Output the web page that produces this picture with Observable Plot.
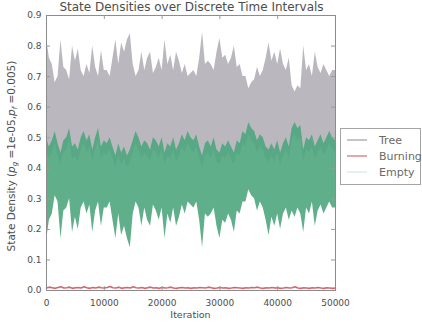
<!DOCTYPE html>
<html>
<head>
<meta charset="utf-8">
<script src="https://cdn.jsdelivr.net/npm/d3@7"></script>
<script src="https://cdn.jsdelivr.net/npm/@observablehq/plot@0.6"></script>
<style>
  body { margin: 0; background: #fff; }
  svg { display: block; }
</style>
</head>
<body>
<div id="chart"></div>
<script>
// Forest-fire cellular automaton: fraction of cells in each state over time.
const seriesNames = ["Tree", "Burning", "Empty"];
const seriesColors = ["#bab8be", "#d5676c", "#4fa67e"];
const legendColors = ["#b3b1b7", "#d98c90", "#e2ebe6"];

const xTicks = [0, 10000, 20000, 30000, 40000, 50000];
const yTicks = [0, 0.1, 0.2, 0.3, 0.4, 0.5, 0.6, 0.7, 0.8, 0.9];

// sampled every 500 iterations
const iterations = d3.range(0, 50001, 500);

// per-sample envelope (low / high) of each state density
const treeHigh = [
  0.83, 0.76, 0.74, 0.68, 0.70, 0.82, 0.73, 0.72, 0.69, 0.80,
  0.75, 0.79, 0.72, 0.70, 0.74, 0.71, 0.80, 0.73, 0.70, 0.785,
  0.72, 0.72, 0.70, 0.76, 0.82, 0.74, 0.81, 0.78, 0.82, 0.84,
  0.74, 0.70, 0.72, 0.78, 0.72, 0.76, 0.78, 0.71, 0.73, 0.76,
  0.72, 0.82, 0.74, 0.77, 0.72, 0.78, 0.75, 0.71, 0.74, 0.70,
  0.71, 0.72, 0.70, 0.76, 0.845, 0.74, 0.75, 0.74, 0.72, 0.78,
  0.825, 0.76, 0.77, 0.74, 0.76, 0.80, 0.73, 0.74, 0.70, 0.70,
  0.66, 0.68, 0.69, 0.73, 0.70, 0.72, 0.76, 0.81, 0.75, 0.78,
  0.74, 0.79, 0.74, 0.72, 0.76, 0.67, 0.65, 0.67, 0.66, 0.80,
  0.72, 0.74, 0.70, 0.78, 0.73, 0.71, 0.74, 0.72, 0.70, 0.72, 0.72
];
const treeLow = [
  0.46, 0.43, 0.45, 0.48, 0.44, 0.41, 0.45, 0.46, 0.49, 0.43,
  0.44, 0.42, 0.46, 0.48, 0.45, 0.47, 0.42, 0.46, 0.49, 0.43,
  0.45, 0.44, 0.46, 0.43, 0.40, 0.44, 0.41, 0.43, 0.40, 0.42,
  0.45, 0.48, 0.46, 0.43, 0.45, 0.44, 0.42, 0.46, 0.45, 0.43,
  0.46, 0.41, 0.44, 0.43, 0.46, 0.42, 0.44, 0.47, 0.45, 0.48,
  0.46, 0.45, 0.47, 0.43, 0.40, 0.44, 0.45, 0.43, 0.46, 0.42,
  0.41, 0.44, 0.43, 0.45, 0.43, 0.41, 0.45, 0.44, 0.48, 0.47,
  0.51, 0.49, 0.48, 0.45, 0.47, 0.46, 0.43, 0.42, 0.44, 0.42,
  0.45, 0.41, 0.44, 0.46, 0.43, 0.49, 0.51, 0.49, 0.50, 0.42,
  0.46, 0.45, 0.47, 0.43, 0.45, 0.47, 0.44, 0.46, 0.48, 0.46, 0.45
];
const emptyHigh = [
  0.50, 0.47, 0.49, 0.52, 0.48, 0.45, 0.49, 0.50, 0.53, 0.47,
  0.48, 0.46, 0.50, 0.52, 0.49, 0.51, 0.46, 0.50, 0.53, 0.47,
  0.49, 0.48, 0.50, 0.47, 0.44, 0.48, 0.45, 0.47, 0.44, 0.46,
  0.49, 0.52, 0.50, 0.47, 0.49, 0.48, 0.46, 0.50, 0.49, 0.47,
  0.50, 0.45, 0.48, 0.47, 0.50, 0.46, 0.48, 0.51, 0.49, 0.52,
  0.50, 0.49, 0.51, 0.47, 0.44, 0.48, 0.49, 0.47, 0.50, 0.46,
  0.45, 0.48, 0.47, 0.49, 0.47, 0.45, 0.49, 0.48, 0.52, 0.51,
  0.55, 0.53, 0.52, 0.49, 0.51, 0.50, 0.47, 0.46, 0.48, 0.46,
  0.49, 0.45, 0.48, 0.50, 0.47, 0.53, 0.55, 0.53, 0.54, 0.46,
  0.50, 0.49, 0.51, 0.47, 0.49, 0.51, 0.48, 0.50, 0.52, 0.50, 0.49
];
const emptyLow = [
  0.16, 0.23, 0.25, 0.31, 0.29, 0.17, 0.26, 0.27, 0.30, 0.19,
  0.24, 0.20, 0.27, 0.29, 0.25, 0.28, 0.19, 0.26, 0.29, 0.21,
  0.27, 0.27, 0.29, 0.23, 0.17, 0.25, 0.18, 0.21, 0.17, 0.14,
  0.25, 0.29, 0.27, 0.21, 0.27, 0.23, 0.21, 0.28, 0.26, 0.23,
  0.27, 0.17, 0.25, 0.22, 0.27, 0.21, 0.24, 0.28, 0.25, 0.29,
  0.28, 0.27, 0.29, 0.23, 0.14, 0.25, 0.24, 0.25, 0.27, 0.21,
  0.17, 0.23, 0.22, 0.25, 0.23, 0.19, 0.26, 0.25, 0.29, 0.29,
  0.33, 0.31, 0.30, 0.26, 0.29, 0.27, 0.23, 0.18, 0.24, 0.21,
  0.25, 0.20, 0.25, 0.27, 0.23, 0.26, 0.24, 0.27, 0.25, 0.19,
  0.27, 0.25, 0.29, 0.21, 0.26, 0.28, 0.25, 0.27, 0.29, 0.27, 0.27
];
const burning = [
  0.008, 0.011, 0.009, 0.007, 0.010, 0.012, 0.008, 0.009, 0.011, 0.007,
  0.009, 0.010, 0.008, 0.012, 0.009, 0.007, 0.010, 0.008, 0.011, 0.009,
  0.008, 0.010, 0.013, 0.009, 0.008, 0.011, 0.007, 0.009, 0.010, 0.008,
  0.012, 0.009, 0.008, 0.010, 0.007, 0.009, 0.011, 0.008, 0.009, 0.007,
  0.010, 0.008, 0.009, 0.011, 0.008, 0.007, 0.009, 0.010, 0.008, 0.009,
  0.007, 0.009, 0.008, 0.010, 0.009, 0.008, 0.011, 0.009, 0.007, 0.008,
  0.010, 0.008, 0.009, 0.007, 0.008, 0.010, 0.009, 0.008, 0.007, 0.009,
  0.008, 0.010, 0.009, 0.011, 0.008, 0.007, 0.009, 0.008, 0.010, 0.008,
  0.009, 0.007, 0.008, 0.010, 0.008, 0.009, 0.012, 0.008, 0.007, 0.009,
  0.008, 0.007, 0.009, 0.008, 0.010, 0.008, 0.007, 0.009, 0.008, 0.007, 0.008
];

const rows = iterations.map((t, i) => ({
  t,
  treeLow: treeLow[i], treeHigh: treeHigh[i],
  emptyLow: emptyLow[i], emptyHigh: emptyHigh[i],
  burning: burning[i]
}));

const W = 422, H = 326;
const M = {left: 46, right: 87, top: 15, bottom: 36};
const innerW = W - M.left - M.right;
const innerH = H - M.top - M.bottom;
const tickLen = 4;
const font = "DejaVu Sans";
const textColor = "#4d4d4d";

const chart = Plot.plot({
  width: W,
  height: H,
  marginLeft: M.left,
  marginRight: M.right,
  marginTop: M.top,
  marginBottom: M.bottom,
  style: {fontFamily: font, fontSize: "9px", color: textColor, background: "#fff"},
  x: {domain: [0, 50000], label: null},
  y: {domain: [0, 0.9], label: null},
  marks: [
    Plot.areaY(rows, {x: "t", y1: "treeLow", y2: "treeHigh", fill: seriesColors[0]}),
    Plot.areaY(rows, {x: "t", y1: "emptyLow", y2: "emptyHigh", fill: seriesColors[2], fillOpacity: 0.9}),
    Plot.lineY(rows, {x: "t", y: "burning", stroke: seriesColors[1], strokeWidth: 1.6}),
    // inward tick marks on all four sides
    Plot.tickY(yTicks, {y: d => d, insetRight: innerW - tickLen, stroke: "#9a9a9a"}),
    Plot.tickY(yTicks, {y: d => d, insetLeft: innerW - tickLen, stroke: "#9a9a9a"}),
    Plot.tickX(xTicks, {x: d => d, insetTop: innerH - tickLen, stroke: "#9a9a9a"}),
    Plot.tickX(xTicks, {x: d => d, insetBottom: innerH - tickLen, stroke: "#9a9a9a"}),
    Plot.frame({stroke: "#8c8c8c"}),
    Plot.axisX({ticks: xTicks, tickFormat: d3.format("d"), tickSize: 0, tickPadding: 9, label: null}),
    Plot.axisY({ticks: yTicks, tickFormat: d3.format(".1f"), tickSize: 0, tickPadding: 5, label: null})
  ]
});

document.getElementById("chart").appendChild(chart);

const svg = d3.select(chart);

// title
svg.append("text")
  .attr("x", M.left + innerW / 2 + 1)
  .attr("y", 11)
  .attr("text-anchor", "middle")
  .attr("font-family", font)
  .attr("font-size", 12)
  .attr("fill", textColor)
  .text("State Densities over Discrete Time Intervals");

// x axis label
svg.append("text")
  .attr("x", M.left + innerW / 2)
  .attr("y", 318)
  .attr("text-anchor", "middle")
  .attr("font-family", font)
  .attr("font-size", 9.5)
  .attr("fill", textColor)
  .text("Iteration");

// y axis label with subscripted parameters
const yLab = svg.append("text")
  .attr("transform", `translate(15,156) rotate(-90)`)
  .attr("text-anchor", "middle")
  .attr("font-family", font)
  .attr("font-size", 10.5)
  .attr("fill", textColor);
yLab.append("tspan").text("State Density (");
yLab.append("tspan").attr("font-style", "italic").text("p");
yLab.append("tspan").attr("font-size", 7).attr("dy", 2).attr("font-style", "italic").text("g");
yLab.append("tspan").attr("dy", -2).text(" =1e-05,");
yLab.append("tspan").attr("font-style", "italic").text("p");
yLab.append("tspan").attr("font-size", 7).attr("dy", 2).attr("font-style", "italic").text("f");
yLab.append("tspan").attr("dy", -2).text(" =0.005)");

// legend box to the right of the axes
const legend = svg.append("g")
  .attr("font-family", font)
  .attr("font-size", 11)
  .attr("text-anchor", "start");
legend.append("rect")
  .attr("x", 340.5).attr("y", 128.5)
  .attr("width", 80).attr("height", 56)
  .attr("fill", "#fff").attr("stroke", "#a5a5a5");
seriesNames.forEach((name, i) => {
  const cy = 140 + i * 16;
  legend.append("line")
    .attr("x1", 347).attr("x2", 367).attr("y1", cy).attr("y2", cy)
    .attr("stroke", legendColors[i]).attr("stroke-width", 1.5);
  legend.append("text")
    .attr("x", 379).attr("y", cy).attr("dy", "0.35em")
    .attr("fill", "#6a6a6a").text(name);
});
</script>
</body>
</html>
